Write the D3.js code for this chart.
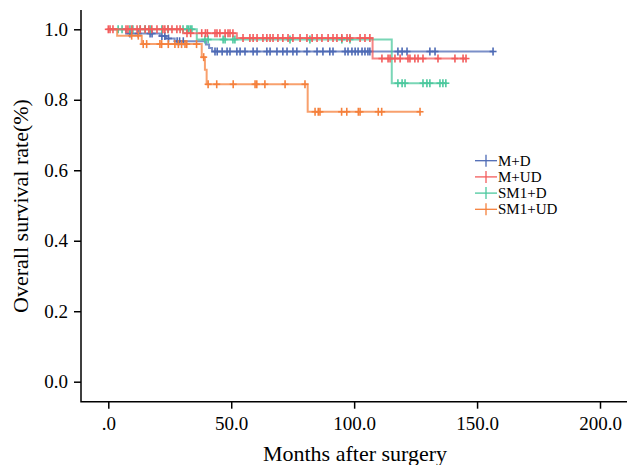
<!DOCTYPE html>
<html>
<head>
<meta charset="utf-8">
<script src="https://cdn.jsdelivr.net/npm/d3@7"></script>
<style>
  body { margin: 0; background: #fff; }
  text { font-family: "Liberation Serif", "Times New Roman", serif; fill: #000; }
</style>
</head>
<body>
<script>
// Kaplan-Meier curves
var groups = ["M+D", "M+UD", "SM1+D", "SM1+UD"];
var colors = ["#4d6ab5", "#f35c5c", "#4cc89e", "#f5803c"];

// [month, survival] where each step starts
var mdSteps = [[0, 1], [7.2, 0.988], [21, 0.981], [23.5, 0.974], [27, 0.966], [39.7, 0.957], [41, 0.947], [42.2, 0.937]];
var mudSteps = [[0, 1], [30.4, 0.989], [52.3, 0.975], [107.5, 0.917]];
var smdSteps = [[0, 1], [36, 0.971], [115.3, 0.847]];
var smudSteps = [[0, 1], [3.6, 0.982], [13.6, 0.958], [38, 0.921], [39.3, 0.885], [40, 0.844], [81.1, 0.766]];

// last follow-up month of each curve
var ends = [156.5, 145.5, 137.6, 126.8];

// censored cases (months)
var mdCensor = [8.8, 12.1, 17, 17.8, 21.8, 23, 24.5, 28, 29, 30.5, 43.4, 44.3, 46.3, 48.3, 49.5, 52.3, 53.6, 55.6, 58.9, 60.5,
  64.5, 65.8, 68.6, 71, 72.7, 75.1, 76.7, 80.8, 84.9, 87.3, 90.1, 91.4, 96.3, 97.5, 99.1, 100.4, 101.6, 103.2,
  104.4, 105.6, 106.4, 117.8, 119.5, 121.5, 130.8, 132.9, 156.5];
var mudCensor = [0, 0.7, 1.9, 7.2, 8, 9.6, 11.7, 13, 15, 16.5, 17.7, 19.8, 22.2, 23, 24.3, 25.9, 27.9, 29.2,
  32, 33.5, 38, 39.5, 40.3, 43.4, 44.2, 45.4, 47.5, 48.7, 49.5, 50.7,
  54.8, 57.6, 58.9, 60.5, 62.9, 64.5, 65.8, 67, 69, 71, 73.1, 75.1, 78, 80.8, 82.9, 84.9, 86.9, 89.4, 91.4,
  93, 95, 97.1, 98.3, 102.4, 104.4, 106.4,
  111.3, 113.8, 114.6, 116.6, 118.7, 121.9, 122.7, 124.7, 126, 128, 134.1, 141, 144.3, 145.5];
var smdCensor = [4, 5.6, 8.8, 10, 12.9, 14.9, 17, 21.8, 24.3, 30.4, 32, 32.5, 33.3, 34,
  39.3, 40.6, 46.7, 47.5, 50.7, 51.5, 73.9, 82, 95, 98.3,
  117.8, 119.5, 120.7, 128, 129.6, 130.8, 134.9, 136.1, 137.3];
var smudCensor = [9.5, 12.2, 14.2, 15.6, 21, 21.7, 24.4, 27.1, 28.5, 29.8, 31.2, 31.9, 35.9, 38.8,
  40.6, 44.1, 50.8, 59.7, 60.4, 63.7, 71.9, 80,
  84.1, 85.4, 86.1, 94.9, 97, 101.7, 102.4, 109.8, 111.2, 126.8];

var xTicks = [0, 50, 100, 150, 200];
var yTicks = [0, 0.2, 0.4, 0.6, 0.8, 1.0];

var allSteps = [mdSteps, mudSteps, smdSteps, smudSteps];
var allCensor = [mdCensor, mudCensor, smdCensor, smudCensor];

var w = 627, h = 465;
var frameLeft = 81, frameBottom = 401.7, frameTop = 10;

var svg = d3.select("body").append("svg").attr("width", w).attr("height", h);

var x = d3.scaleLinear().domain([0, 200]).range([108.3, 600]);
var y = d3.scaleLinear().domain([0, 1]).range([381.7, 29.3]);

// survival value of a step curve at time t
function survAt(steps, t) {
  var s = steps[0][1];
  steps.forEach(function(p) { if (p[0] <= t) s = p[1]; });
  return s;
}

// axes
var xAxis = svg.append("g")
  .attr("transform", "translate(0," + frameBottom + ")")
  .call(d3.axisBottom(x).tickValues(xTicks).tickSize(7).tickPadding(8)
    .tickFormat(function(d) { return d === 0 ? ".0" : d.toFixed(1); }));
xAxis.select(".domain").remove();
xAxis.selectAll("line").attr("stroke", "#000").attr("stroke-width", 1.5);
xAxis.selectAll("text").style("font-size", "19px").style("font-family", "Liberation Serif");

var yAxis = svg.append("g")
  .attr("transform", "translate(" + frameLeft + ",0)")
  .call(d3.axisLeft(y).tickValues(yTicks).tickSize(7).tickPadding(6)
    .tickFormat(function(d) { return d.toFixed(1); }));
yAxis.select(".domain").remove();
yAxis.selectAll("line").attr("stroke", "#000").attr("stroke-width", 1.5);
yAxis.selectAll("text").style("font-size", "19px").style("font-family", "Liberation Serif");

svg.append("path")
  .attr("d", "M" + frameLeft + "," + frameTop + "V" + frameBottom + "H" + w)
  .attr("fill", "none").attr("stroke", "#000").attr("stroke-width", 1.5);

// titles
svg.append("text")
  .attr("x", 355).attr("y", 461)
  .attr("text-anchor", "middle")
  .style("font-size", "22px")
  .text("Months after surgery");

svg.append("text")
  .attr("transform", "translate(28,206) rotate(-90)")
  .attr("text-anchor", "middle")
  .style("font-size", "22px")
  .text("Overall survival rate(%)");

// curves
var line = d3.line()
  .x(function(d) { return x(d[0]); })
  .y(function(d) { return y(d[1]); })
  .curve(d3.curveStepAfter);

var order = [0, 2, 3, 1];
order.forEach(function(i) {
  var steps = allSteps[i];
  var pts = steps.concat([[ends[i], steps[steps.length - 1][1]]]);
  var g = svg.append("g").attr("class", "curve");

  g.append("path")
    .attr("d", line(pts))
    .attr("fill", "none")
    .attr("stroke", colors[i])
    .attr("stroke-width", 2)
    .attr("stroke-opacity", 0.75);

  var marks = g.selectAll(".censor")
    .data(allCensor[i])
    .enter().append("g")
    .attr("class", "censor")
    .attr("transform", function(t) { return "translate(" + x(t) + "," + y(survAt(steps, t)) + ")"; });
  marks.append("line").attr("x1", 0).attr("x2", 0).attr("y1", -4).attr("y2", 4)
    .attr("stroke", colors[i]).attr("stroke-width", 1.6);
  marks.append("line").attr("x1", -3.5).attr("x2", 3.5).attr("y1", 0).attr("y2", 0)
    .attr("stroke", colors[i]).attr("stroke-width", 1.6);
});

// legend
var legend = svg.append("g").attr("transform", "translate(475,160.7)");
var items = legend.selectAll(".item")
  .data(groups)
  .enter().append("g")
  .attr("class", "item")
  .attr("transform", function(d, i) { return "translate(0," + (i * 16.2) + ")"; });
items.append("line").attr("x1", 0).attr("x2", 22).attr("y1", 0).attr("y2", 0)
  .attr("stroke", function(d, i) { return colors[i]; }).attr("stroke-width", 1.3);
items.append("line").attr("x1", 11).attr("x2", 11).attr("y1", -6).attr("y2", 6)
  .attr("stroke", function(d, i) { return colors[i]; }).attr("stroke-width", 1.3);
items.append("text")
  .attr("x", 23).attr("y", 5)
  .style("font-size", "15px")
  .text(function(d) { return d; });
</script>
</body>
</html>
